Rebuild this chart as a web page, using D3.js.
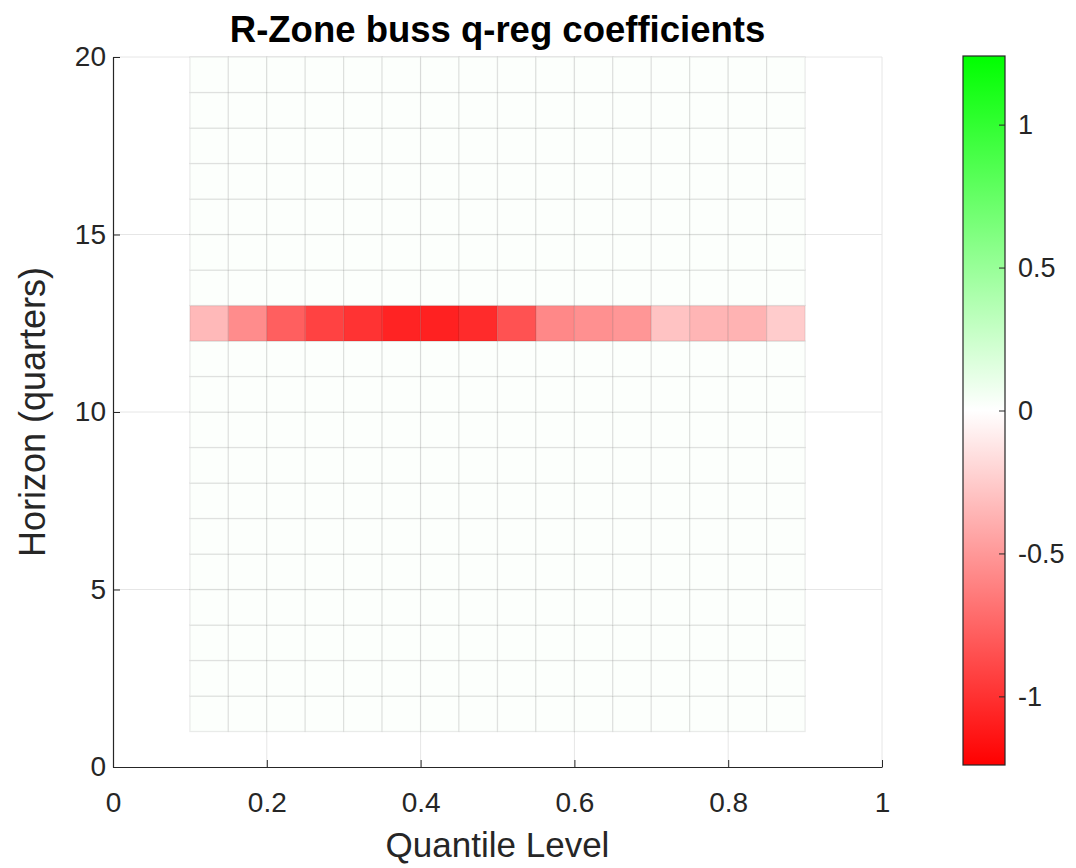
<!DOCTYPE html>
<html>
<head>
<meta charset="UTF-8">
<title>R-Zone buss q-reg coefficients</title>
<style>
  body { margin: 0; background: #fff; font-family: "Liberation Sans", Arial, sans-serif; }
  svg text { fill: #262626; }
</style>
</head>
<body>
<svg id="chart" width="1076" height="868"></svg>
<script src="https://d3js.org/d3.v7.min.js"></script>
<script>
// quantile grid edges and horizons (pcolor vertices)
const quantiles = [0.1, 0.15, 0.2, 0.25, 0.3, 0.35, 0.4, 0.45, 0.5, 0.55, 0.6, 0.65, 0.7, 0.75, 0.8, 0.85, 0.9];
const horizons = [1, 2, 3, 4, 5, 6, 7, 8, 9, 10, 11, 12, 13, 14, 15, 16, 17, 18, 19, 20];
// only horizon 12 has non-zero coefficients
const bandHorizon = 12;
const bandValues = [-0.34, -0.56, -0.78, -0.92, -0.99, -1.07, -1.08, -1.03, -0.84, -0.58, -0.54, -0.51, -0.29, -0.36, -0.37, -0.25];
const baseValue = 0.015;
const xTicks = [0, 0.2, 0.4, 0.6, 0.8, 1];
const yTicks = [0, 5, 10, 15, 20];
const cbarTicks = [-1, -0.5, 0, 0.5, 1];
const cLimit = 1.24;

const svg = d3.select("#chart");
const margin = { left: 113, right: 882, top: 57, bottom: 767 };

const x = d3.scaleLinear().domain([0, 1]).range([margin.left, margin.right]);
const y = d3.scaleLinear().domain([0, 20]).range([margin.bottom, margin.top]);
const color = d3.scaleLinear()
  .domain([-cLimit, 0, cLimit])
  .range(["#ff0000", "#ffffff", "#00ff00"])
  .interpolate(d3.interpolateRgb)
  .clamp(true);

// grid
const grid = svg.append("g").attr("stroke", "#e6e6e6").attr("stroke-width", 1);
xTicks.filter(d => d > 0).forEach(d => {
  grid.append("line").attr("x1", x(d)).attr("x2", x(d)).attr("y1", y(0)).attr("y2", y(20));
});
yTicks.filter(d => d > 0).forEach(d => {
  grid.append("line").attr("x1", x(0)).attr("x2", x(1)).attr("y1", y(d)).attr("y2", y(d));
});

// cells
const cells = [];
for (let j = 0; j < horizons.length - 1; j++) {
  for (let i = 0; i < quantiles.length - 1; i++) {
    cells.push({
      x0: quantiles[i], x1: quantiles[i + 1],
      y0: horizons[j], y1: horizons[j + 1],
      v: horizons[j] === bandHorizon ? bandValues[i] : baseValue
    });
  }
}
svg.append("g").selectAll("rect").data(cells).join("rect")
  .attr("x", d => x(d.x0))
  .attr("y", d => y(d.y1))
  .attr("width", d => x(d.x1) - x(d.x0))
  .attr("height", d => y(d.y0) - y(d.y1))
  .attr("fill", d => color(d.v))
  .attr("stroke", "rgba(0,0,0,0.08)")
  .attr("stroke-width", 1.3);

// axes
const xAxis = svg.append("g").attr("transform", `translate(0,${margin.bottom})`)
  .call(d3.axisBottom(x).tickValues(xTicks).tickSizeInner(-7).tickSizeOuter(0).tickPadding(25).tickFormat(d3.format("")));
const yAxis = svg.append("g").attr("transform", `translate(${margin.left},0)`)
  .call(d3.axisLeft(y).tickValues(yTicks).tickSizeInner(-7).tickSizeOuter(0).tickPadding(7).tickFormat(d3.format("")));
[xAxis, yAxis].forEach(a => {
  a.select(".domain").attr("stroke", "#262626").attr("stroke-width", 1.2);
  a.selectAll(".tick line").attr("stroke", "#262626");
  a.selectAll(".tick text").attr("font-size", 28).attr("font-family", "Liberation Sans, Arial, sans-serif").attr("fill", "#262626");
});

// titles
svg.append("text").attr("x", x(0.5)).attr("y", 42).attr("text-anchor", "middle")
  .attr("font-size", 36.5).attr("font-weight", "bold").style("fill", "#000")
  .text("R-Zone buss q-reg coefficients");
svg.append("text").attr("x", x(0.5)).attr("y", 857).attr("text-anchor", "middle")
  .attr("font-size", 35).text("Quantile Level");
svg.append("text").attr("transform", `translate(45,${y(10)}) rotate(-90)`).attr("text-anchor", "middle")
  .attr("font-size", 36).text("Horizon (quarters)");

// colorbar
const cb = { x: 963, w: 42, top: 56, bottom: 765 };
const cy = d3.scaleLinear().domain([-cLimit, cLimit]).range([cb.bottom, cb.top]);
const defs = svg.append("defs");
const grad = defs.append("linearGradient").attr("id", "cgrad")
  .attr("x1", 0).attr("y1", 1).attr("x2", 0).attr("y2", 0);
grad.selectAll("stop").data([-cLimit, 0, cLimit]).join("stop")
  .attr("offset", d => (d + cLimit) / (2 * cLimit))
  .attr("stop-color", d => color(d));
svg.append("rect").attr("x", cb.x).attr("y", cb.top).attr("width", cb.w).attr("height", cb.bottom - cb.top)
  .attr("fill", "url(#cgrad)").attr("stroke", "#262626").attr("stroke-width", 1.2);
const cAxis = svg.append("g").attr("transform", `translate(${cb.x + cb.w},0)`)
  .call(d3.axisRight(cy).tickValues(cbarTicks).tickSizeInner(-6).tickSizeOuter(0).tickPadding(13).tickFormat(d3.format("")));
cAxis.select(".domain").remove();
cAxis.selectAll(".tick line").attr("stroke", "#262626");
cAxis.selectAll(".tick text").attr("font-size", 27).attr("font-family", "Liberation Sans, Arial, sans-serif").attr("fill", "#262626");
cAxis.selectAll(".tick text").text(d => d === 0 ? "0" : String(d).replace("−", "-"));
</script>
</body>
</html>
